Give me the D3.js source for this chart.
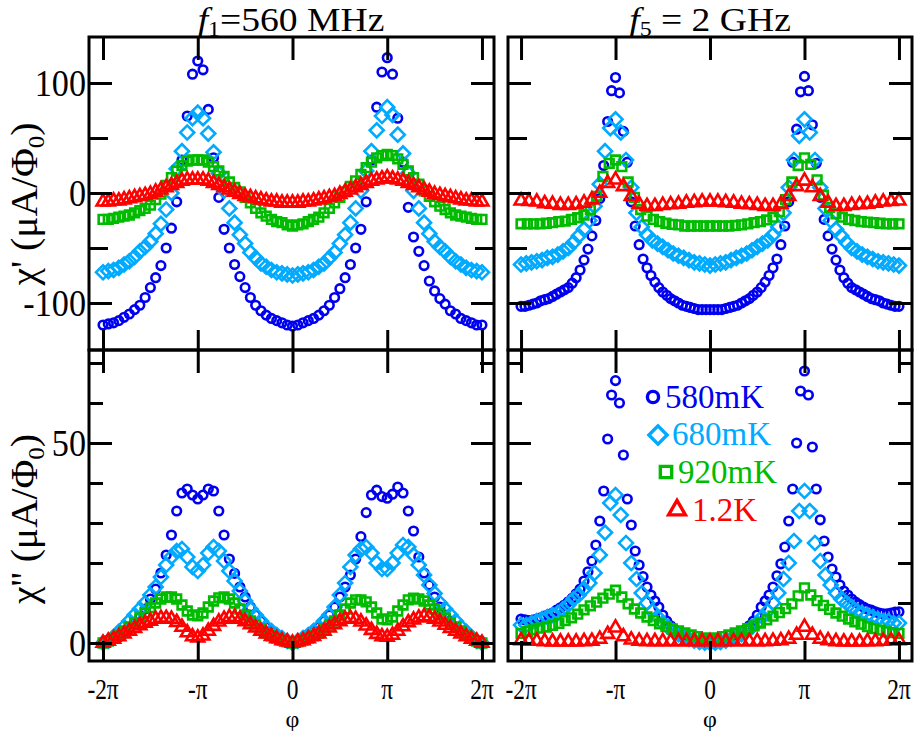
<!DOCTYPE html>
<html><head><meta charset="utf-8">
<script src="https://cdn.jsdelivr.net/npm/d3@7"></script>
<style>
body{margin:0;background:#fff}
text{font-family:"Liberation Serif","Times New Roman",serif}
</style>
</head><body>
<svg id="c" width="918" height="731"></svg>
<script>
// ---------------- DATA ----------------
// flux phase grids in degrees (x axis is shown in units of pi)
const phiDeg = [-360,-350,-340,-330,-320,-310,-300,-290,-280,-270,-260,-250,-240,-230,-220,-210,-200,-190,-180,-170,-160,-150,-140,-130,-120,-110,-100,-90,-80,-70,-60,-50,-40,-30,-20,-10,0,10,20,30,40,50,60,70,80,90,100,110,120,130,140,150,160,170,180,190,200,210,220,230,240,250,260,270,280,290,300,310,320,330,340,350,360];
const phiFine = [-360,-352.5,-345,-337.5,-330,-322.5,-315,-307.5,-300,-292.5,-285,-277.5,-270,-262.5,-255,-247.5,-240,-232.5,-225,-217.5,-210,-202.5,-195,-187.5,-180,-172.5,-165,-157.5,-150,-142.5,-135,-127.5,-120,-112.5,-105,-97.5,-90,-82.5,-75,-67.5,-60,-52.5,-45,-37.5,-30,-22.5,-15,-7.5,0,7.5,15,22.5,30,37.5,45,52.5,60,67.5,75,82.5,90,97.5,105,112.5,120,127.5,135,142.5,150,157.5,165,172.5,180,187.5,195,202.5,210,217.5,225,232.5,240,247.5,255,262.5,270,277.5,285,292.5,300,307.5,315,322.5,330,337.5,345,352.5,360];
const phi12 = [-360,-348,-336,-324,-312,-300,-288,-276,-264,-252,-240,-228,-216,-204,-192,-180,-168,-156,-144,-132,-120,-108,-96,-84,-72,-60,-48,-36,-24,-12,0,12,24,36,48,60,72,84,96,108,120,132,144,156,168,180,192,204,216,228,240,252,264,276,288,300,312,324,336,348,360];
const phi15 = [-360,-345,-330,-315,-300,-285,-270,-255,-240,-225,-210,-195,-180,-165,-150,-135,-120,-105,-90,-75,-60,-45,-30,-15,0,15,30,45,60,75,90,105,120,135,150,165,180,195,210,225,240,255,270,285,300,315,330,345,360];

const xTickValues = [-2,-1,0,1,2];
const xTickLabels = ["-2\u03c0","-\u03c0","0","\u03c0","2\u03c0"];
const yTopMajor = [-100,0,100];
const yTopMinor = [-50,50];
const yBotMajor = [0,50];
const yBotMinor = [10,20,30,40,60,70];
const legendLabels = ["580mK","680mK","920mK","1.2K"];

// chi' at f1 = 560 MHz  (grid phiDeg)
const re_f1_580 = [-120,-119,-118,-116,-113,-110,-106,-102,-95,-86,-77,-66,-50,-32,-8,30,70,108,120,112,76,32,-4,-33,-50,-65,-76,-86,-95,-102,-107,-111,-114,-116,-118,-120,-121,
 -120,-118,-116,-114,-111,-107,-102,-95,-87,-77,-65,-50,-33,-8,30,78,110,123,108,68,28,-13,-40,-53,-66,-80,-89,-96,-101,-107,-110,-114,-116,-118,-120,-120];
const re_f1_680 = [-72,-71,-70,-68,-65,-62,-58,-53,-49,-44,-37,-28,-15,0,22,38,55,68,73,68,54,37,18,2,-14,-27,-38,-46,-54,-59,-64,-67,-70,-72,-73,-74,-75,
 -74,-73,-72,-70,-67,-64,-59,-54,-46,-38,-27,-14,2,20,38,57,70,78,71,53,36,18,2,-14,-27,-37,-44,-49,-53,-58,-62,-65,-68,-70,-71,-72];
const re_f1_920 = [-24,-24,-23,-22,-21,-20,-18,-16,-14,-11,-6,-1,7,14,20,25,29,30,30,30,28,24,20,15,10,5,1,-4,-9,-14,-18,-21,-24,-26,-27,-29,-30,
 -29,-28,-26,-24,-22,-18,-14,-9,-4,1,6,11,17,23,28,32,34,35,34,31,26,20,14,8,2,-3,-8,-12,-15,-18,-20,-21,-22,-23,-24,-24];
const re_f1_1200 = [-8,-8,-7,-7,-6,-5,-4,-3,-2,-1,1,3,5,7,9,11,12,12,12,12,11,9,7,5,3,1,-1,-3,-4,-5,-6,-7,-8,-8,-9,-9,-9,
 -9,-8,-8,-7,-6,-5,-4,-3,-1,1,3,5,7,9,11,12,13,14,13,12,11,9,7,5,3,1,-1,-2,-3,-4,-5,-6,-7,-7,-8,-8];

// chi' at f5 = 2 GHz
const re_f5_580 = [-103,-103,-102,-101,-100,-98,-97,-96,-94,-92,-90,-88,-86,-82,-77,-70,-61,-51,-39,-25,-5,25,65,93,105,91,56,28,-8,-30,-47,-60,-68,-75,-81,-86,-90,-93,-96,-98,-100,-102,-103,-104,-105,-106,-106,-106,-106,
 -106,-106,-106,-105,-104,-103,-102,-100,-98,-96,-93,-90,-86,-81,-75,-68,-60,-47,-30,-8,28,58,92,106,93,62,27,-4,-24,-39,-51,-61,-70,-77,-82,-86,-88,-90,-92,-94,-96,-97,-98,-100,-101,-102,-103,-103]; // phiFine
const re_f5_680 = [-65,-64,-63,-62,-61,-59,-58,-56,-53,-50,-45,-39,-33,-25,-12,8,38,59,67,55,30,5,-18,-31,-38,-43,-46,-49,-52,-55,-57,-59,-61,-63,-64,-65,-66,
 -65,-64,-63,-61,-59,-57,-55,-52,-49,-46,-43,-38,-31,-18,5,30,52,67,55,30,5,-14,-25,-33,-39,-45,-50,-53,-56,-58,-60,-62,-63,-64,-65,-66]; // phiDeg
const re_f5_920 = [-28,-28,-28,-28,-27.5,-27,-26,-25.5,-24,-22.5,-20,-15,-3,15,27,30,24,10,-4,-15,-21,-24,-26,-27.5,-28.5,-29,-30,-30,-30,-30,-30,
 -30,-30,-30,-29.5,-29,-28,-27,-26,-24.5,-22,-17,-6,10,25,32,26,12,-2,-13,-19,-22,-24,-25,-26,-26.5,-27,-27.5,-28,-28,-28]; // phi12
const re_f5_1200 = [-7,-7.5,-8,-9.5,-10,-11,-11,-10.5,-9,-6,0,9,12,6,-3,-10,-12,-12,-11,-10.5,-10,-9,-8.5,-8,-8,
 -8,-8.5,-9,-10,-10.5,-11,-12,-12,-10,-3,6,11,5,-3,-9,-12,-12,-11,-10.5,-10,-9,-8,-7.5,-7]; // phi15

// chi'' at f1 = 560 MHz  (grid phiDeg)
const im_f1_580 = [0,0.5,1,1.5,2.5,3.5,5,6.5,8.5,11,13.5,17.5,22,27,33,37.5,38.5,37,36,37,38.5,38,33,27,21,17.4,14,11.5,9,7,5.5,4,3,2,1,0.5,0,
 0.5,1,2,3,4,5.5,7,9,11.5,14,17,21,26.6,32.6,37,38.2,36.6,36.2,37.2,39,37.5,33,28,21.5,17.5,14.5,11.5,9,7,5.5,4,3,2,1,0.5,0];
const im_f1_680 = [0,0.5,1.5,2.8,4,5.5,7,8.5,10,12,14,16.5,19.5,21.5,23,23.5,21.5,19,18,19.5,22.5,24,23,20.5,18,15.5,13,10.5,8.5,7,5.5,4,3,2,1.2,0.5,0,
 0.5,1.2,2,3,4,5.5,7,9,12,15,19,22,23.5,24,22.5,20,18.5,18.5,20,22.5,24.5,24,22,19.5,17,14.5,12.4,10,8.5,7,5.5,4,2.8,1.5,0.5,0];
const im_f1_920 = [0,0.5,1.2,2,3,4,5,6.3,7.5,8.8,10,11,11.5,11.5,11,9.5,8,7,6.8,7.5,9,10.5,11.3,11.5,11,10,8.5,7,5.5,4.5,3.5,2.5,1.8,1.2,0.7,0.3,0,
 0.3,0.7,1.2,1.8,2.5,3.5,4.5,5.5,7,8.5,10,10.8,10.8,10.3,9,7.5,6,5.8,6.5,8,9.5,10.8,11.2,11,10.5,9.5,8.5,7.3,6.2,5,4,3,2,1.2,0.5,0];
const im_f1_1200 = [0,0.5,1,1.6,2.3,3,3.7,4.4,5,5.5,6,6.2,6.2,6,5.2,4,2.6,1.6,1.3,1.8,3,4.2,5.3,6,6.4,6.4,6,5.4,4.6,3.8,3,2.3,1.7,1.1,0.6,0.3,0,
 0.3,0.6,1.1,1.7,2.3,3,3.8,4.6,5.4,6,6.2,6,5.3,4.3,3.2,2.2,1.6,1.5,2,3,4.1,5.1,5.8,6.3,6.6,6.5,6,5.3,4.5,3.7,3,2.3,1.6,1,0.5,0];

// chi'' at f5 = 2 GHz
const im_f5_580 = [6,5.8,5.6,5.7,6,6.3,6.7,7.1,7.5,8.2,8.8,9.5,10.3,11.2,12.3,13.5,15.5,17.8,20.5,24.5,30.5,38,51,62,65.6,60,47,36,29.5,23,19.5,16.6,14,12,10.5,9,7,5.5,4.3,3.4,2.6,2,1.5,1.1,0.8,0.5,0.3,0.1,0,
 0.1,0.3,0.5,0.8,1.1,1.5,2,2.6,3.4,4.3,5.5,7,9,10.5,12,14,16.8,19.8,24,30.5,38.5,50,63,68,62,49,38.5,30.8,25.5,21.5,18.5,16.5,14.5,13,12,11,10.2,9.6,9,8.5,8.2,7.8,7.5,7.3,7.3,7.5,7.7,7.8]; // phiFine
const im_f5_680 = [4.5,4.5,5,5.5,6,6.5,7,7.5,8.5,9.5,11,12,13.5,15,17.5,22,27.6,35,37,32,25,20,16,12.5,10,8,6.5,5,4,3,2.2,1.5,1,0.6,0.3,0.1,0,
 0.1,0.3,0.6,1,1.5,2.2,3,4,5,6.5,8,10,12.5,16,20,25.5,33,38,33,25,20.5,17,14.5,12.5,11,10,9,8,7.5,7,6.5,6,5.5,5.5,5,5]; // phiDeg
const im_f5_920 = [2.4,2.9,3.3,3.7,4,4.4,4.9,5.6,6.3,7.2,8.3,9.3,10.2,11.2,12.2,13.2,11.5,9.8,8.5,7.5,6.5,5.6,4.8,4.1,3.5,3,2.5,2,1.6,1.3,1,
 1.3,1.6,2,2.5,3,3.6,4.3,5,5.8,6.7,7.6,8.6,9.8,11.8,13.8,12,10.6,9.4,8.4,7.5,6.7,6,5.3,4.7,4.1,3.6,3.2,2.8,2.6,2.4]; // phi12
const im_f5_1200 = [0.6,0.5,0.5,0.4,0.3,0.3,0.3,0.3,0.4,0.5,1,2.2,3.8,1.6,0.8,0.5,0.4,0.4,0.4,0.4,0.4,0.4,0.4,0.4,0.4,
 0.4,0.4,0.4,0.4,0.4,0.4,0.4,0.5,0.6,1,2,4,2,1,0.6,0.4,0.3,0.3,0.3,0.4,0.4,0.5,0.6,0.6]; // phi15

// ---------------- STYLE / LAYOUT ----------------
const colors = ["#0000f0","#00aaff","#00bb00","#ff0000"];
const symbols = ["circle","diamond","square","triangle"];
const SERIF = '"Liberation Serif","Times New Roman",serif';

const svg = d3.select("#c");
svg.append("rect").attr("width",918).attr("height",731).attr("fill","#fff");

const L = {x0:89,x1:494}, R = {x0:508,x1:912};
const T = {y0:37,y1:350}, B = {y0:350,y1:661};

const panels = [
  {col:L, row:T, xd:[-2.148,2.127], yd:[-142.7,141.8], major:yTopMajor, minor:yTopMinor, minorLen:19,
   data:[[phiDeg,re_f1_580],[phiDeg,re_f1_680],[phiDeg,re_f1_920],[phiDeg,re_f1_1200]], ylab:true, xlab:false},
  {col:R, row:T, xd:[-2.138,2.138], yd:[-142.7,141.8], major:yTopMajor, minor:yTopMinor, minorLen:19,
   data:[[phiFine,re_f5_580],[phiDeg,re_f5_680],[phi12,re_f5_920],[phi15,re_f5_1200]], ylab:false, xlab:false},
  {col:L, row:B, xd:[-2.148,2.127], yd:[-4.5,73.25], major:yBotMajor, minor:yBotMinor, minorLen:14,
   data:[[phiDeg,im_f1_580],[phiDeg,im_f1_680],[phiDeg,im_f1_920],[phiDeg,im_f1_1200]], ylab:true, xlab:true},
  {col:R, row:B, xd:[-2.138,2.138], yd:[-4.5,73.25], major:yBotMajor, minor:yBotMinor, minorLen:14,
   data:[[phiFine,im_f5_580],[phiDeg,im_f5_680],[phi12,im_f5_920],[phi15,im_f5_1200]], ylab:false, xlab:true}
];

function markerPath(kind, scale){
  const s = scale||1;
  if(kind==="circle") return d3.symbol(d3.symbolCircle, 58*s*s)();
  if(kind==="square") return d3.symbol(d3.symbolSquare, 76*s*s)();
  if(kind==="diamond") return d3.symbol(d3.symbolSquare, 98*s*s)();
  return d3.symbol(d3.symbolTriangle, 72*s*s)();
}

panels.forEach(p=>{
  const x = d3.scaleLinear().domain(p.xd).range([p.col.x0,p.col.x1]);
  const y = d3.scaleLinear().domain(p.yd).range([p.row.y1,p.row.y0]);
  const g = svg.append("g");

  p.data.forEach(([phi,vals],si)=>{
    const pts = vals.map((v,i)=>({px:phi[i]/180, v}));
    g.append("g").selectAll("path").data(pts).join("path")
      .attr("d", markerPath(symbols[si]))
      .attr("transform", d=>`translate(${x(d.px)},${y(d.v)})` + (symbols[si]==="diamond"?" rotate(45)":""))
      .attr("fill","none").attr("stroke",colors[si]).attr("stroke-width",2.6);
  });

  const axes = svg.append("g");
  const styleAxis = sel=>{sel.select(".domain").remove(); sel.selectAll("line").attr("stroke","#000").attr("stroke-width",3); sel.selectAll("text").remove();};
  axes.append("g").attr("transform",`translate(0,${p.row.y1})`)
    .call(d3.axisBottom(x).tickValues(xTickValues).tickSize(-20).tickFormat("")).call(styleAxis);
  axes.append("g").attr("transform",`translate(0,${p.row.y0})`)
    .call(d3.axisTop(x).tickValues(xTickValues).tickSize(-23).tickFormat("")).call(styleAxis);
  axes.append("g").attr("transform",`translate(${p.col.x0},0)`)
    .call(d3.axisLeft(y).tickValues(p.major).tickSize(-23).tickFormat("")).call(styleAxis);
  axes.append("g").attr("transform",`translate(${p.col.x0},0)`)
    .call(d3.axisLeft(y).tickValues(p.minor).tickSize(-p.minorLen).tickFormat("")).call(styleAxis);
  axes.append("g").attr("transform",`translate(${p.col.x1},0)`)
    .call(d3.axisRight(y).tickValues(p.major).tickSize(-23).tickFormat("")).call(styleAxis);
  axes.append("g").attr("transform",`translate(${p.col.x1},0)`)
    .call(d3.axisRight(y).tickValues(p.minor).tickSize(-p.minorLen).tickFormat("")).call(styleAxis);

  svg.append("rect").attr("x",p.col.x0).attr("y",p.row.y0)
    .attr("width",p.col.x1-p.col.x0).attr("height",p.row.y1-p.row.y0)
    .attr("fill","none").attr("stroke","#000").attr("stroke-width",3);

  if(p.ylab){
    p.major.forEach(v=>{
      svg.append("g").attr("transform",`translate(${p.col.x0-3},${y(v)+13}) scale(0.9,1)`)
        .append("text").attr("text-anchor","end").attr("font-size",38).attr("font-family",SERIF)
        .text(String(v));
    });
  }
  if(p.xlab){
    xTickValues.forEach((v,i)=>{
      svg.append("g").attr("transform",`translate(${x(v)},699) scale(0.78,1)`)
        .append("text").attr("text-anchor","middle").attr("font-size",30).attr("font-family",SERIF)
        .text(xTickLabels[i]);
    });
    svg.append("text").attr("x",x(0)).attr("y",727).attr("text-anchor","middle")
      .attr("font-size",24).attr("font-family",SERIF).text("\u03c6");
  }
});

// titles
function title(cx, sub, rest){
  const g = svg.append("g").attr("transform",`translate(${cx},31) scale(1.14,1)`);
  const t = g.append("text").attr("text-anchor","middle").attr("font-size",33).attr("font-family",SERIF);
  t.append("tspan").attr("font-style","italic").text("f");
  t.append("tspan").attr("font-size",21).attr("dy",5).text(sub);
  t.append("tspan").attr("dy",-5).text(rest);
}
title(291, "1", "=560 MHz");
title(710, "5", " = 2 GHz");

// y axis titles
function ytitle(cy, primes){
  const g = svg.append("g").attr("transform",`translate(37,${cy}) rotate(-90) scale(1.04,1)`);
  const t = g.append("text").attr("text-anchor","middle").attr("font-size",38).attr("font-family",SERIF);
  t.append("tspan").text("\u03c7"+primes+" (\u03bcA/\u03a6");
  t.append("tspan").attr("font-size",24).attr("dy",7).text("0");
  t.append("tspan").attr("dy",-7).text(")");
}
ytitle(204, "'");
ytitle(519, "''");

// legend (bottom-right panel)
const legendPos = [{mx:653,my:397,tx:665,ty:408},{mx:658,my:435,tx:672,ty:445},{mx:666,my:472,tx:678,ty:483},{mx:677,my:510,tx:692,ty:521}];
legendLabels.forEach((lab,i)=>{
  const lp = legendPos[i];
  svg.append("path").attr("d",markerPath(symbols[i],1.3))
    .attr("transform",`translate(${lp.mx},${lp.my})`+(symbols[i]==="diamond"?" rotate(45)":""))
    .attr("fill","none").attr("stroke",colors[i]).attr("stroke-width",3.4);
  svg.append("text").attr("x",lp.tx).attr("y",lp.ty).attr("font-size",33).attr("font-family",SERIF)
    .attr("fill",colors[i]).text(lab);
});
</script>
</body></html>
